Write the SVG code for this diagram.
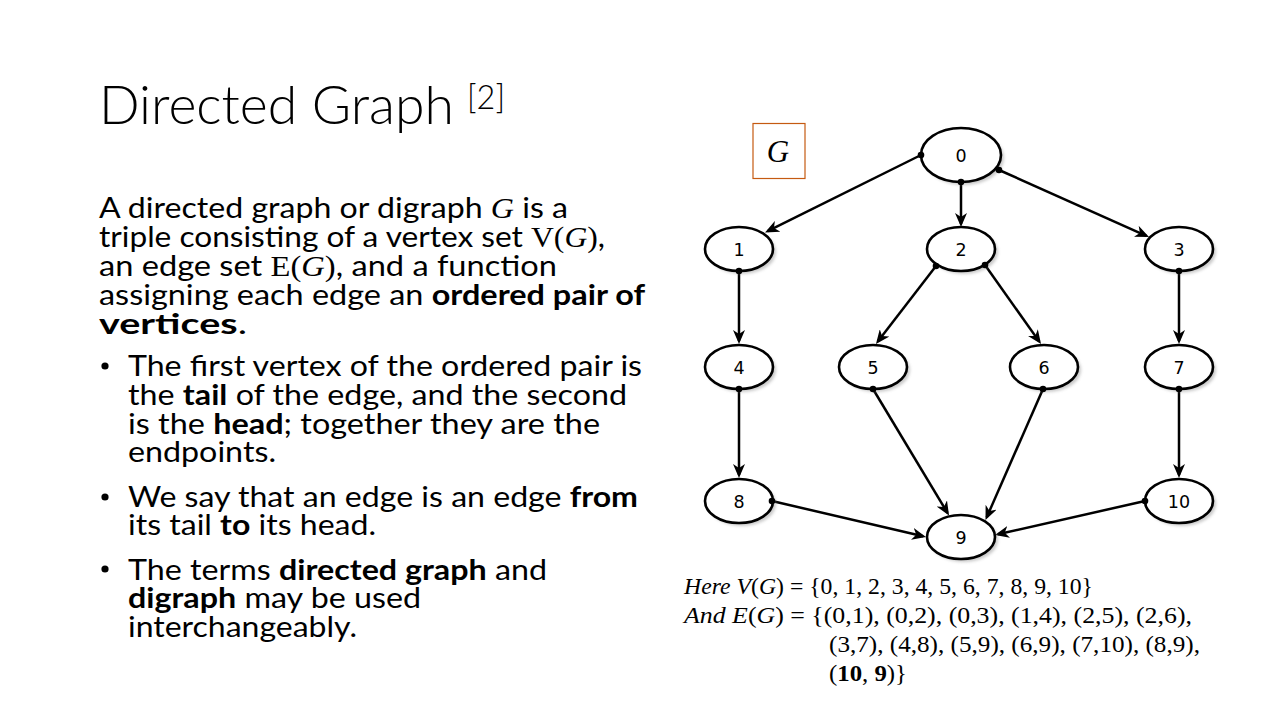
<svg xmlns="http://www.w3.org/2000/svg" width="1280" height="720" viewBox="0 0 1280 720">
  <style>
    .title { font-family: Lato, "Open Sans", sans-serif; font-weight: 300; fill: #000; }
    .body { font-family: Lato, "Open Sans", sans-serif; font-size: 29px; fill: #000; }
    .b { font-weight: 700; }
    .mi { font-family: "Liberation Serif", serif; font-style: italic; }
    .mr { font-family: "Liberation Serif", serif; }
    .math { font-family: "Liberation Serif", serif; font-size: 23px; fill: #000; }
    .it { font-style: italic; }
    .bullet { fill: #000; }
    .node ellipse.shape { fill: #fff; stroke: #000; stroke-width: 2.6; }
    .node ellipse.shadow { fill: #888; opacity: 0.45; }
    .node text { font-family: "DejaVu Sans", Verdana, sans-serif; font-size: 17.5px; fill: #000; text-anchor: middle; }
    .edge { stroke: #000; stroke-width: 2.5; fill: none; }
    .tail { fill: #000; }
  </style>
  <defs>
    <filter id="soft" x="-20%" y="-20%" width="140%" height="140%">
      <feGaussianBlur stdDeviation="1.6"/>
    </filter>
    <marker id="arrow" viewBox="0 0 14 12" markerWidth="14" markerHeight="12" refX="11" refY="6" orient="auto" markerUnits="userSpaceOnUse">
      <path d="M0,0 L14,6 L0,12 L4,6 z" fill="#000"/>
    </marker>
  </defs>

  <rect width="1280" height="720" fill="#fff"/>

  <!-- Title -->
  <text class="title" x="99" y="124" font-size="54" textLength="355" lengthAdjust="spacingAndGlyphs">Directed Graph</text>
  <text class="title" x="467" y="109" font-size="33" textLength="38" lengthAdjust="spacingAndGlyphs">[2]</text>

  <!-- Definition paragraph -->
  <g class="body">
    <text x="99" y="218" textLength="469" lengthAdjust="spacingAndGlyphs">A directed graph or digraph <tspan class="mi">G</tspan> is a</text>
    <text x="99" y="247" textLength="506" lengthAdjust="spacingAndGlyphs">triple consisting of a vertex set <tspan class="mr">V(</tspan><tspan class="mi">G</tspan><tspan class="mr">)</tspan>,</text>
    <text x="99" y="276" textLength="458" lengthAdjust="spacingAndGlyphs">an edge set <tspan class="mr">E(</tspan><tspan class="mi">G</tspan><tspan class="mr">)</tspan>, and a function</text>
    <text x="99" y="305" textLength="546" lengthAdjust="spacingAndGlyphs">assigning each edge an <tspan class="b">ordered pair of</tspan></text>
    <text x="99" y="334" textLength="148" lengthAdjust="spacingAndGlyphs"><tspan class="b">vertices</tspan>.</text>
  </g>

  <!-- Bullet list -->
  <g class="bullet">
    <circle cx="105" cy="366" r="3.6"/>
    <circle cx="105" cy="497" r="3.6"/>
    <circle cx="105" cy="569" r="3.6"/>
  </g>
  <g class="body">
    <text x="128" y="376" textLength="514" lengthAdjust="spacingAndGlyphs">The first vertex of the ordered pair is</text>
    <text x="128" y="405" textLength="499" lengthAdjust="spacingAndGlyphs">the <tspan class="b">tail</tspan> of the edge, and the second</text>
    <text x="128" y="434" textLength="472" lengthAdjust="spacingAndGlyphs">is the <tspan class="b">head</tspan>; together they are the</text>
    <text x="128" y="462" textLength="148" lengthAdjust="spacingAndGlyphs">endpoints.</text>

    <text x="128" y="507" textLength="510" lengthAdjust="spacingAndGlyphs">We say that an edge is an edge <tspan class="b">from</tspan></text>
    <text x="128" y="535" textLength="248" lengthAdjust="spacingAndGlyphs">its tail <tspan class="b">to</tspan> its head.</text>

    <text x="128" y="580" textLength="419" lengthAdjust="spacingAndGlyphs">The terms <tspan class="b">directed graph</tspan> and</text>
    <text x="128" y="608" textLength="293" lengthAdjust="spacingAndGlyphs"><tspan class="b">digraph</tspan> may be used</text>
    <text x="128" y="637" textLength="229" lengthAdjust="spacingAndGlyphs">interchangeably.</text>
  </g>

  <!-- Graph label box -->
  <g id="graph-label">
    <rect x="753" y="123.5" width="52" height="55" fill="#fff" stroke="#C55A11" stroke-width="1.2"/>
    <text x="778" y="162" font-family="Liberation Serif, serif" font-style="italic" font-size="31" text-anchor="middle">G</text>
  </g>

  <!-- Connectors -->
  <g id="edges">
    <line class="edge" x1="921" y1="155" x2="767.7" y2="231.2" marker-end="url(#arrow)"/>
    <line class="edge" x1="961" y1="182" x2="961" y2="224" marker-end="url(#arrow)"/>
    <line class="edge" x1="999" y1="170" x2="1146.3" y2="235.8" marker-end="url(#arrow)"/>
    <line class="edge" x1="739" y1="271" x2="739" y2="341" marker-end="url(#arrow)"/>
    <line class="edge" x1="936" y1="266" x2="877.8" y2="341.6" marker-end="url(#arrow)"/>
    <line class="edge" x1="985" y1="265" x2="1039.3" y2="341.6" marker-end="url(#arrow)"/>
    <line class="edge" x1="1179" y1="271" x2="1179" y2="341" marker-end="url(#arrow)"/>
    <line class="edge" x1="739" y1="389" x2="739" y2="475" marker-end="url(#arrow)"/>
    <line class="edge" x1="873" y1="389" x2="947.5" y2="512.9" marker-end="url(#arrow)"/>
    <line class="edge" x1="1043" y1="389" x2="986.7" y2="517.3" marker-end="url(#arrow)"/>
    <line class="edge" x1="1179" y1="389" x2="1179" y2="475" marker-end="url(#arrow)"/>
    <line class="edge" x1="772" y1="501" x2="923.1" y2="536.3" marker-end="url(#arrow)"/>
    <line class="edge" x1="1145" y1="501" x2="997.9" y2="534.3" marker-end="url(#arrow)"/>
  </g>

  <!-- Vertices -->
  <g id="v0" class="node">
    <ellipse class="shadow" cx="964" cy="158" rx="40" ry="27" filter="url(#soft)"/>
    <ellipse class="shape" cx="961" cy="155" rx="40" ry="27"/>
    <text x="961" y="162">0</text>
  </g>
  <g id="v1" class="node">
    <ellipse class="shadow" cx="742" cy="252" rx="34" ry="22" filter="url(#soft)"/>
    <ellipse class="shape" cx="739" cy="249" rx="34" ry="22"/>
    <text x="739" y="255.5">1</text>
  </g>
  <g id="v2" class="node">
    <ellipse class="shadow" cx="964" cy="252" rx="34" ry="22" filter="url(#soft)"/>
    <ellipse class="shape" cx="961" cy="249" rx="34" ry="22"/>
    <text x="961" y="255.5">2</text>
  </g>
  <g id="v3" class="node">
    <ellipse class="shadow" cx="1182" cy="252" rx="34" ry="22" filter="url(#soft)"/>
    <ellipse class="shape" cx="1179" cy="249" rx="34" ry="22"/>
    <text x="1179" y="255.5">3</text>
  </g>
  <g id="v4" class="node">
    <ellipse class="shadow" cx="742" cy="370" rx="34" ry="22" filter="url(#soft)"/>
    <ellipse class="shape" cx="739" cy="367" rx="34" ry="22"/>
    <text x="739" y="373.5">4</text>
  </g>
  <g id="v5" class="node">
    <ellipse class="shadow" cx="876" cy="370" rx="34" ry="22" filter="url(#soft)"/>
    <ellipse class="shape" cx="873" cy="367" rx="34" ry="22"/>
    <text x="873" y="373.5">5</text>
  </g>
  <g id="v6" class="node">
    <ellipse class="shadow" cx="1047" cy="370" rx="34" ry="22" filter="url(#soft)"/>
    <ellipse class="shape" cx="1044" cy="367" rx="34" ry="22"/>
    <text x="1044" y="373.5">6</text>
  </g>
  <g id="v7" class="node">
    <ellipse class="shadow" cx="1182" cy="370" rx="34" ry="22" filter="url(#soft)"/>
    <ellipse class="shape" cx="1179" cy="367" rx="34" ry="22"/>
    <text x="1179" y="373.5">7</text>
  </g>
  <g id="v8" class="node">
    <ellipse class="shadow" cx="742" cy="504" rx="34" ry="22" filter="url(#soft)"/>
    <ellipse class="shape" cx="739" cy="501" rx="34" ry="22"/>
    <text x="739" y="507.5">8</text>
  </g>
  <g id="v9" class="node">
    <ellipse class="shadow" cx="964" cy="540" rx="34" ry="22" filter="url(#soft)"/>
    <ellipse class="shape" cx="961" cy="537" rx="34" ry="22"/>
    <text x="961" y="543.5">9</text>
  </g>
  <g id="v10" class="node">
    <ellipse class="shadow" cx="1182" cy="504" rx="34" ry="22" filter="url(#soft)"/>
    <ellipse class="shape" cx="1179" cy="501" rx="34" ry="22"/>
    <text x="1179" y="507.5">10</text>
  </g>

  <!-- Tail dots drawn over the vertex outlines -->
  <g id="edge-tails" class="tail">
    <circle cx="921" cy="155" r="3.3"/>
    <circle cx="961" cy="182" r="3.3"/>
    <circle cx="999" cy="170" r="3.3"/>
    <circle cx="739" cy="271" r="3.3"/>
    <circle cx="936" cy="266" r="3.3"/>
    <circle cx="985" cy="265" r="3.3"/>
    <circle cx="1179" cy="271" r="3.3"/>
    <circle cx="739" cy="389" r="3.3"/>
    <circle cx="873" cy="389" r="3.3"/>
    <circle cx="1043" cy="389" r="3.3"/>
    <circle cx="1179" cy="389" r="3.3"/>
    <circle cx="772" cy="501" r="3.3"/>
    <circle cx="1145" cy="501" r="3.3"/>
  </g>

  <!-- Vertex and edge sets -->
  <g class="math">
    <text x="684" y="594" textLength="409" lengthAdjust="spacingAndGlyphs"><tspan class="it">Here V</tspan>(<tspan class="it">G</tspan>) = {0, 1, 2, 3, 4, 5, 6, 7, 8, 9, 10}</text>
    <text x="684" y="623" textLength="508" lengthAdjust="spacingAndGlyphs"><tspan class="it">And E</tspan>(<tspan class="it">G</tspan>) = {(0,1), (0,2), (0,3), (1,4), (2,5), (2,6),</text>
    <text x="829" y="652" textLength="371" lengthAdjust="spacingAndGlyphs">(3,7), (4,8), (5,9), (6,9), (7,10), (8,9),</text>
    <text x="829" y="681" textLength="78" lengthAdjust="spacingAndGlyphs">(<tspan font-weight="700">10</tspan>, <tspan font-weight="700">9</tspan>)}</text>
  </g>
</svg>
